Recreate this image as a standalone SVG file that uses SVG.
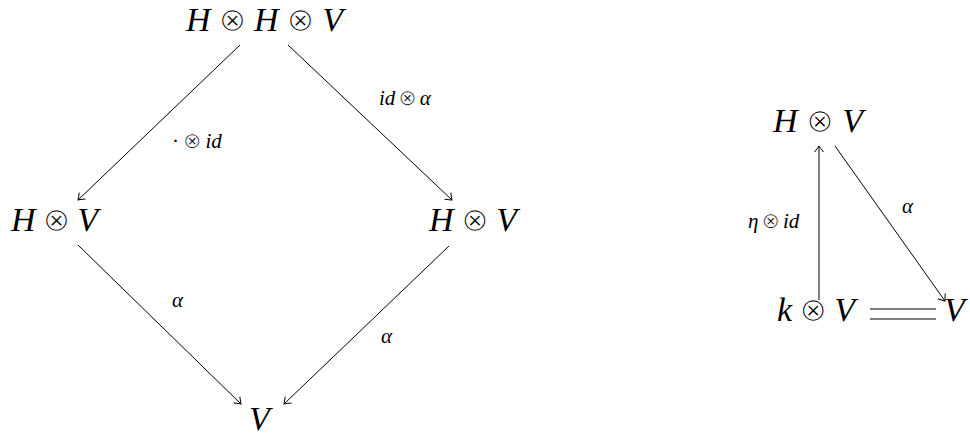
<svg xmlns="http://www.w3.org/2000/svg" width="970" height="436" viewBox="0 0 970 436">
<style>
text{font-family:"Liberation Serif","DejaVu Serif",serif;fill:#000}
.n{font-size:34px}
.l{font-size:21px}
.i{font-style:italic}
.o{font-family:"DejaVu Sans",sans-serif;font-size:0.98em;stroke:#fff;stroke-width:1.2px}
.l .o{font-size:1.05em;stroke-width:0.7px}
.e{stroke:#000;stroke-width:1;fill:none}
</style>
<defs>
<marker id="ah" markerWidth="12" markerHeight="12" refX="0" refY="0" viewBox="-7 -6 8 12" orient="auto" markerUnits="userSpaceOnUse">
<path d="M-6,-4.5 Q-1.5,-1 0,0 Q-1.5,1 -6,4.5" fill="none" stroke="#000" stroke-width="1"/>
</marker>
</defs>
<rect width="970" height="436" fill="#fff"/>
<g id="edges">
<line class="e" x1="240" y1="45" x2="78" y2="200" marker-end="url(#ah)"/>
<line class="e" x1="288" y1="45" x2="452" y2="200" marker-end="url(#ah)"/>
<line class="e" x1="78" y1="245" x2="241" y2="404" marker-end="url(#ah)"/>
<line class="e" x1="449" y1="246" x2="284" y2="404" marker-end="url(#ah)"/>
<line class="e" x1="819" y1="300" x2="819" y2="146" marker-end="url(#ah)"/>
<line class="e" x1="835" y1="146" x2="945" y2="301" marker-end="url(#ah)"/>
<line class="e" x1="870" y1="309" x2="936" y2="309"/>
<line class="e" x1="870" y1="319" x2="936" y2="319"/>
<text class="l" x="172" y="148">·<tspan class="o" dx="4">⊗</tspan><tspan class="i" dx="4">id</tspan></text>
<text class="l" x="379" y="105"><tspan class="i">id</tspan><tspan class="o" dx="3">⊗</tspan><tspan class="i" dx="3">α</tspan></text>
<text class="l i" x="172" y="307">α</text>
<text class="l i" x="381" y="343">α</text>
<text class="l" x="748" y="228"><tspan class="i">η</tspan><tspan class="o" dx="3">⊗</tspan><tspan class="i" dx="3">id</tspan></text>
<text class="l i" x="902" y="213">α</text>
</g>
<g id="HHV"><text class="n" x="186" y="31" textLength="157" lengthAdjust="spacing"><tspan class="i">H</tspan> <tspan class="o">⊗</tspan> <tspan class="i">H</tspan> <tspan class="o">⊗</tspan> <tspan class="i">V</tspan></text></g>
<g id="HV_left"><text class="n" x="11" y="231" textLength="87" lengthAdjust="spacing"><tspan class="i">H</tspan> <tspan class="o">⊗</tspan> <tspan class="i">V</tspan></text></g>
<g id="HV_right"><text class="n" x="429" y="231" textLength="88" lengthAdjust="spacing"><tspan class="i">H</tspan> <tspan class="o">⊗</tspan> <tspan class="i">V</tspan></text></g>
<g id="V_bottom"><text class="n i" x="249" y="430">V</text></g>
<g id="HV_tri"><text class="n" x="773" y="132" textLength="90" lengthAdjust="spacing"><tspan class="i">H</tspan> <tspan class="o">⊗</tspan> <tspan class="i">V</tspan></text></g>
<g id="kV"><text class="n" x="777" y="321" textLength="78" lengthAdjust="spacing"><tspan class="i">k</tspan> <tspan class="o">⊗</tspan> <tspan class="i">V</tspan></text></g>
<g id="V_tri"><text class="n i" x="944" y="321">V</text></g>
</svg>
